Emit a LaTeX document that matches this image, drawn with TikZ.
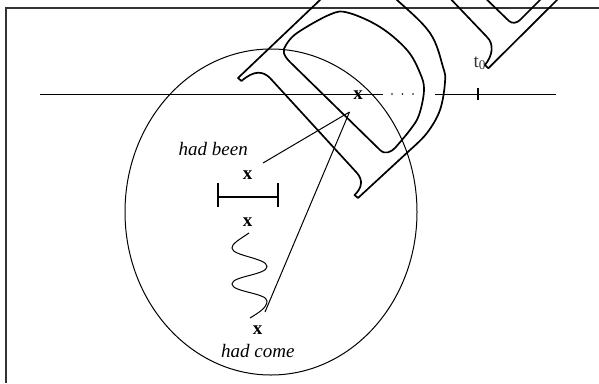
\documentclass[tikz,border=0pt]{standalone}
\usepackage{fontspec}
\setmainfont{Liberation Serif}
\usetikzlibrary{shapes.geometric}
\begin{document}
\begin{tikzpicture}[x=1pt,y=-1pt,
  glyph/.style={line width=1.7pt, line join=round},
  thinline/.style={line width=1pt},
  framel/.style={line width=1.6pt, draw=black!80},
  lbl/.style={font=\fontsize{19}{22}\selectfont, inner sep=0pt, anchor=base},
  ilbl/.style={lbl, font=\fontsize{19}{22}\selectfont\itshape, anchor=base west},
  xmark/.style={lbl, font=\fontsize{19}{22}\selectfont\bfseries}]
\useasboundingbox (0,0) rectangle (599,383);
\clip (0,0) rectangle (599,383);

% frame (top and left edges)
\coordinate (fTR) at (599,8);
\coordinate (fTL) at (5.8,8);
\coordinate (fBL) at (5.8,383);
\draw[framel] (fTR) -- (fTL) -- (fBL);

% ellipse
\node[draw, thinline, ellipse, minimum width=292pt, minimum height=326pt, inner sep=0pt] (ell) at (271,212) {};

% time line
\coordinate (tA) at (40,94);
\coordinate (tB) at (383,94);
\coordinate (tC) at (435,94);
\coordinate (tD) at (556,94);
\draw[thinline] (tA) -- (tB);
\draw[thinline] (tC) -- (tD);
\foreach \px in {392,402.5,413} \fill (\px,94) circle (0.85pt);
\coordinate (tick1) at (478,88);
\coordinate (tick2) at (478,99.5);
\draw[line width=1.3pt] (tick1) -- (tick2);
\node[lbl, anchor=base west, text=black!80] (t0) at (473.5,67) {t\textsubscript{0}};

% marks and labels
\node[xmark] (xT) at (358,99) {x};
\node[ilbl] (hb) at (178.5,155) {had been};
\node[xmark] (x1) at (247.5,179.5) {x};
\node[xmark] (x2) at (247.5,226.5) {x};
\node[xmark] (x3) at (257.5,334) {x};
\node[ilbl] (hc) at (221,357) {had come};

% bar
\coordinate (bL1) at (218,183);
\coordinate (bL2) at (218,207);
\coordinate (bR1) at (278,183);
\coordinate (bR2) at (278,207);
\coordinate (bM1) at (218,197);
\coordinate (bM2) at (278,197);
\draw[line width=1.3pt] (bL1) -- (bL2);
\draw[line width=1.3pt] (bR1) -- (bR2);
\draw[line width=1.2pt] (bM1) -- (bM2);
\draw[line width=2pt] (223,197) -- (270,197);

% wavy line
\coordinate (w0) at (249,233);
\coordinate (w1) at (250,318);
\draw[thinline] (w0) .. controls (237,241) and (232,244) .. (232,248)
  .. controls (232,256) and (267,258) .. (267,266.5)
  .. controls (267,275) and (232,276) .. (232,284)
  .. controls (232,292) and (267,293) .. (267,301)
  .. controls (267,308) and (258,313) .. (w1);

% pointer lines
\coordinate (meet) at (349.5,112);
\coordinate (hbEnd) at (263,163);
\coordinate (hcEnd) at (265,312);
\draw[thinline] (hbEnd) -- (meet);
\draw[thinline] (hcEnd) -- (meet);

% outlined glyph D (rotated)
\draw[glyph] (241.5,81) -- (238,78) -- (320,0) -- (338,-18)
  -- plot[smooth, tension=0.6] coordinates {(338,-18) (368,-24) (397,0) (430,33) (443,67) (445,82) (440,110) (427,133) (410,150)}
  -- (358,198) -- (354.5,195)
  .. controls (361,189) and (364,181) .. (357,173)
  -- (270,78) .. controls (263,71) and (254,70) .. cycle;
\draw[glyph] (290,62) .. controls (283,55) and (282,50) .. (286,45)
  -- plot[smooth, tension=0.6] coordinates {(286,45) (297,33) (330,14.5) (348,12.7) (380,27) (407,50) (420,73) (424,90) (419,115) (410,130) (395,148)}
  .. controls (391,152) and (385,155) .. (380,150) -- cycle;

% partial next glyph
\draw[glyph] (445,-7) -- (487,37) .. controls (494,44) and (493,55) .. (485,65)
  -- (488.3,68.3) -- (557,0) -- (564,-7);
\draw[glyph] (480,-7) -- (509,21) .. controls (512,24) and (517,23) .. (520,20) -- (547,-7);
\end{tikzpicture}
\end{document}
